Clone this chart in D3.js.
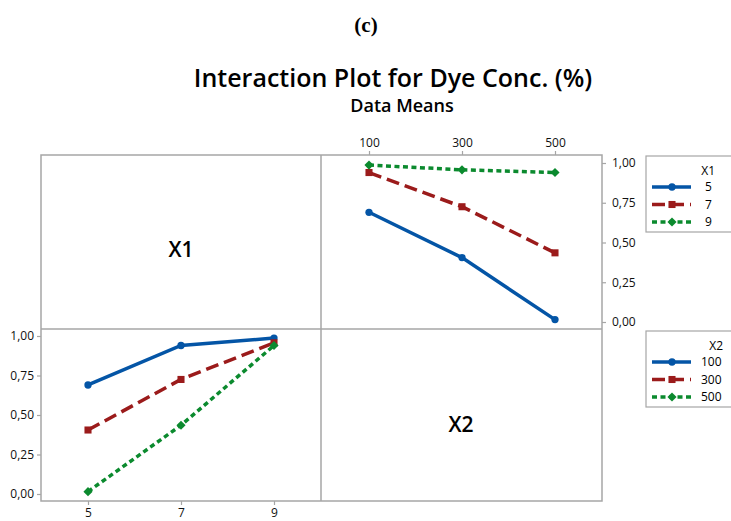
<!DOCTYPE html>
<html>
<head>
<meta charset="utf-8">
<script src="https://cdn.jsdelivr.net/npm/d3@7"></script>
<style>
  body { margin: 0; background: #fff; }
</style>
</head>
<body>
<svg id="chart" width="731" height="521"></svg>
<script>
// factor levels
var x1Levels = [5, 7, 9];
var x2Levels = [100, 300, 500];
// means of dye conc. for each X1 level, across X2 = 100, 300, 500
var meansX1_5 = [0.69, 0.405, 0.015];
var meansX1_7 = [0.94, 0.725, 0.435];
var meansX1_9 = [0.987, 0.957, 0.94];
var yTicks = [0, 0.25, 0.5, 0.75, 1];

var means = [meansX1_5, meansX1_7, meansX1_9];

var colors = ["#0455a6", "#9b1b1b", "#0b8a2e"];
var dashes = [null, "13,6", "5,3.5"];
var sans = "'Open Sans', 'Noto Sans', sans-serif";

// circle, square and a square turned 45 degrees for the diamond
function marker(i){
  if(i === 0) return d3.symbol().type(d3.symbolCircle).size(42)();
  if(i === 1) return d3.symbol().type(d3.symbolSquare).size(50)();
  return d3.symbol().type(d3.symbolSquare).size(42)();
}
function markerRot(i){ return i === 2 ? " rotate(45)" : ""; }

var svg = d3.select("#chart");
var fmt = function(d){ return d3.format(".2f")(d).replace(".", ","); };

// titles
svg.append("text").attr("x", 366).attr("y", 32).attr("text-anchor", "middle")
  .attr("font-family", "'Liberation Serif', 'DejaVu Serif', serif").attr("font-weight", "bold").attr("font-size", 21)
  .text("(c)");
svg.append("text").attr("x", 393).attr("y", 87).attr("text-anchor", "middle")
  .attr("font-family", sans).attr("font-weight", 600).attr("font-size", 25)
  .text("Interaction Plot for Dye Conc. (%)");
svg.append("text").attr("x", 402).attr("y", 112).attr("text-anchor", "middle")
  .attr("font-family", sans).attr("font-weight", 600).attr("font-size", 18)
  .text("Data Means");

// panel geometry
var L = 41, M = 321, R = 602, T = 155, H = 329, B = 501;
var grey = "#a6a6a6";

// top-right: X1 lines over X2
var xTop = d3.scalePoint().domain(x2Levels).range([369, 555]);
var yTop = d3.scaleLinear().domain([0, 1]).range([322, 163]);
// bottom-left: X2 lines over X1
var xBot = d3.scalePoint().domain(x1Levels).range([88, 274]);
var yBot = d3.scaleLinear().domain([0, 1]).range([494, 336]);

function styleAxis(g){
  g.select(".domain").remove();
  g.selectAll(".tick line").attr("stroke", grey).attr("stroke-width", 1.2);
  g.selectAll(".tick text").attr("font-family", sans).attr("font-size", 12).attr("fill", "#111");
}

svg.append("g").attr("transform", "translate(0," + T + ")")
  .call(d3.axisTop(xTop).tickSize(4).tickPadding(4)).call(styleAxis);
svg.append("g").attr("transform", "translate(" + R + ",0)")
  .call(d3.axisRight(yTop).tickValues(yTicks).tickFormat(fmt).tickSize(4).tickPadding(6)).call(styleAxis);
svg.append("g").attr("transform", "translate(0," + B + ")")
  .call(d3.axisBottom(xBot).tickSize(4).tickPadding(3)).call(styleAxis);
svg.append("g").attr("transform", "translate(" + L + ",0)")
  .call(d3.axisLeft(yBot).tickValues(yTicks).tickFormat(fmt).tickSize(4).tickPadding(3)).call(styleAxis);

// frame and dividers
var frame = svg.append("g").attr("stroke", grey).attr("stroke-width", 1.5).attr("fill", "none");
frame.append("rect").attr("x", L).attr("y", T).attr("width", R - L).attr("height", B - T);
frame.append("line").attr("x1", M).attr("x2", M).attr("y1", T).attr("y2", B);
frame.append("line").attr("x1", L).attr("x2", R).attr("y1", H).attr("y2", H);

// diagonal labels
svg.append("text").attr("x", 181).attr("y", 250).attr("dy", "0.35em").attr("text-anchor", "middle")
  .attr("font-family", sans).attr("font-weight", 600).attr("font-size", 21).text("X1");
svg.append("text").attr("x", 461).attr("y", 425).attr("dy", "0.35em").attr("text-anchor", "middle")
  .attr("font-family", sans).attr("font-weight", 600).attr("font-size", 21).text("X2");

function series(g, xs, ys, xsc, ysc, i){
  var pts = xs.map(function(x, k){ return [xsc(x), ysc(ys[k])]; });
  g.append("path").attr("d", d3.line()(pts)).attr("fill", "none")
    .attr("stroke", colors[i]).attr("stroke-width", 3.5).attr("stroke-dasharray", dashes[i]);
  g.selectAll(null).data(pts).enter().append("path")
    .attr("transform", function(p){ return "translate(" + p[0] + "," + p[1] + ")" + markerRot(i); })
    .attr("d", marker(i)).attr("fill", colors[i]);
}

var gTop = svg.append("g");
means.forEach(function(row, i){ series(gTop, x2Levels, row, xTop, yTop, i); });

var gBot = svg.append("g");
x2Levels.forEach(function(lv, j){
  var col = means.map(function(row){ return row[j]; });
  series(gBot, x1Levels, col, xBot, yBot, j);
});

// legends
function legend(y0, title, titleX, labels, labelX){
  var g = svg.append("g");
  g.append("rect").attr("x", 646).attr("y", y0).attr("width", 100).attr("height", 76)
    .attr("fill", "none").attr("stroke", grey).attr("stroke-width", 1.2);
  g.append("text").attr("x", titleX).attr("y", y0 + 15).attr("dy", "0.35em").attr("text-anchor", "end")
    .attr("font-family", sans).attr("font-size", 12).text(title);
  labels.forEach(function(lb, i){
    var yy = y0 + 31 + i * 17.5;
    g.append("line").attr("x1", 652).attr("x2", 691).attr("y1", yy).attr("y2", yy)
      .attr("stroke", colors[i]).attr("stroke-width", 3.5).attr("stroke-dasharray", dashes[i]);
    g.append("path").attr("transform", "translate(672," + yy + ")" + markerRot(i))
      .attr("d", marker(i)).attr("fill", colors[i]);
    g.append("text").attr("x", labelX).attr("y", yy).attr("dy", "0.35em")
      .attr("font-family", sans).attr("font-size", 12).text(lb);
  });
}
legend(156, "X1", 715, x1Levels, 705);
legend(331, "X2", 723, x2Levels, 701);
</script>
</body>
</html>
